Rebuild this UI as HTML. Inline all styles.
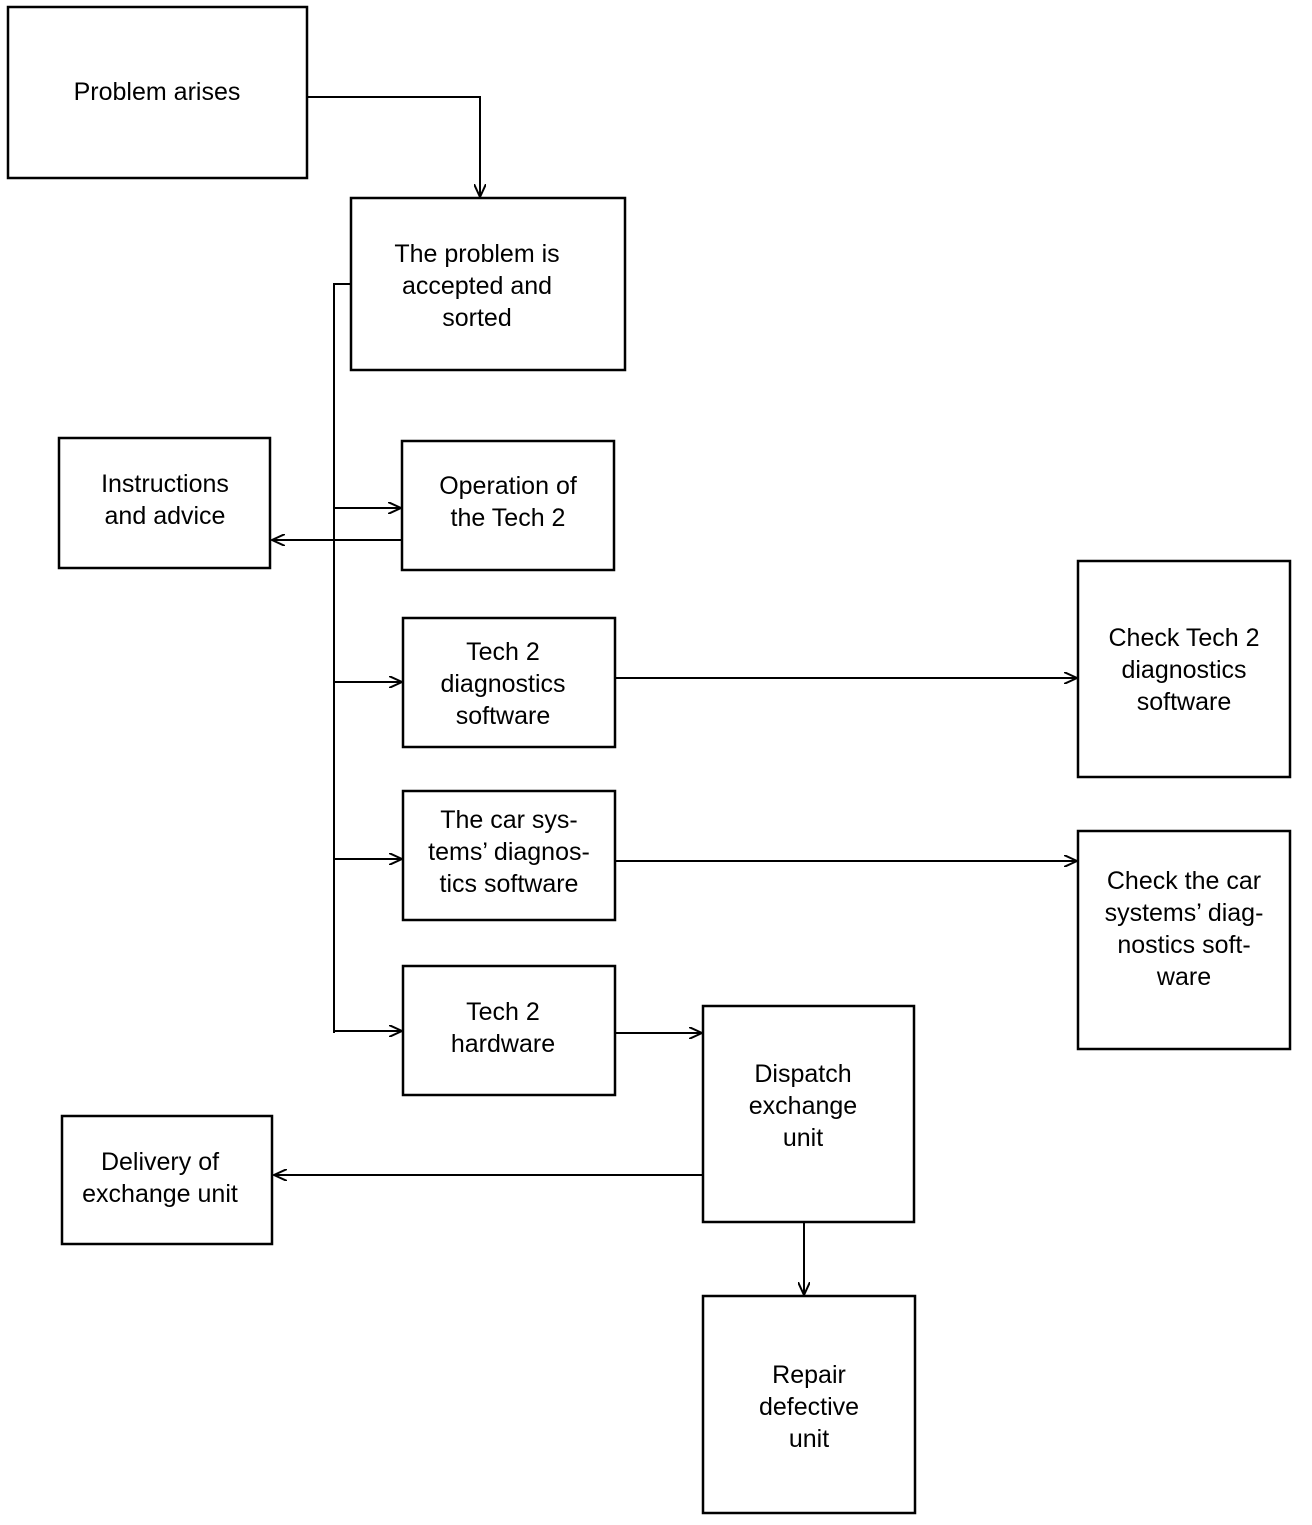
<!DOCTYPE html>
<html><head><meta charset="utf-8"><style>
html,body{margin:0;padding:0;background:#fff;}
svg text{font-family:"Liberation Sans",Arial,sans-serif;font-size:25px;fill:#000;text-anchor:middle;}
</style></head><body>
<svg width="1312" height="1520" viewBox="0 0 1312 1520" xmlns="http://www.w3.org/2000/svg">
<defs><marker id="a" markerWidth="14" markerHeight="12" refX="13" refY="6" orient="auto" markerUnits="userSpaceOnUse"><path d="M0,0 L13,6 L0,12" fill="none" stroke="#000" stroke-width="2"/></marker></defs>
<g fill="none" stroke="#000" stroke-width="2.5">
<rect x="8" y="7" width="299" height="171"/>
<rect x="351" y="198" width="274" height="172"/>
<rect x="59" y="438" width="211" height="130"/>
<rect x="402" y="441" width="212" height="129"/>
<rect x="403" y="618" width="212" height="129"/>
<rect x="403" y="791" width="212" height="129"/>
<rect x="403" y="966" width="212" height="129"/>
<rect x="1078" y="561" width="212" height="216"/>
<rect x="1078" y="831" width="212" height="218"/>
<rect x="703" y="1006" width="211" height="216"/>
<rect x="62" y="1116" width="210" height="128"/>
<rect x="703" y="1296" width="212" height="217"/>
</g>
<g fill="none" stroke="#000" stroke-width="2">
<path d="M307,97 H480 V197" marker-end="url(#a)"/>
<path d="M351,284 H334 V1033"/>
<path d="M334,508 H401" marker-end="url(#a)"/>
<path d="M334,682 H402" marker-end="url(#a)"/>
<path d="M334,859 H402" marker-end="url(#a)"/>
<path d="M334,1031 H402" marker-end="url(#a)"/>
<path d="M402,540 H272" marker-end="url(#a)"/>
<path d="M615,678 H1077" marker-end="url(#a)"/>
<path d="M615,861 H1077" marker-end="url(#a)"/>
<path d="M615,1033 H702" marker-end="url(#a)"/>
<path d="M703,1175 H274" marker-end="url(#a)"/>
<path d="M804,1222 V1295" marker-end="url(#a)"/>
</g>
<text x="157" y="100">Problem arises</text>
<text x="477" y="262">The problem is</text><text x="477" y="294">accepted and</text><text x="477" y="326">sorted</text>
<text x="165" y="492">Instructions</text><text x="165" y="524">and advice</text>
<text x="508" y="494">Operation of</text><text x="508" y="526">the Tech 2</text>
<text x="503" y="660">Tech 2</text><text x="503" y="692">diagnostics</text><text x="503" y="724">software</text>
<text x="509" y="828">The car sys-</text><text x="509" y="860">tems’ diagnos-</text><text x="509" y="892">tics software</text>
<text x="503" y="1020">Tech 2</text><text x="503" y="1052">hardware</text>
<text x="1184" y="646">Check Tech 2</text><text x="1184" y="678">diagnostics</text><text x="1184" y="710">software</text>
<text x="1184" y="889">Check the car</text><text x="1184" y="921">systems’ diag-</text><text x="1184" y="953">nostics soft-</text><text x="1184" y="985">ware</text>
<text x="803" y="1082">Dispatch</text><text x="803" y="1114">exchange</text><text x="803" y="1146">unit</text>
<text x="160" y="1170">Delivery of</text><text x="160" y="1202">exchange unit</text>
<text x="809" y="1383">Repair</text><text x="809" y="1415">defective</text><text x="809" y="1447">unit</text>
</svg>
</body></html>
